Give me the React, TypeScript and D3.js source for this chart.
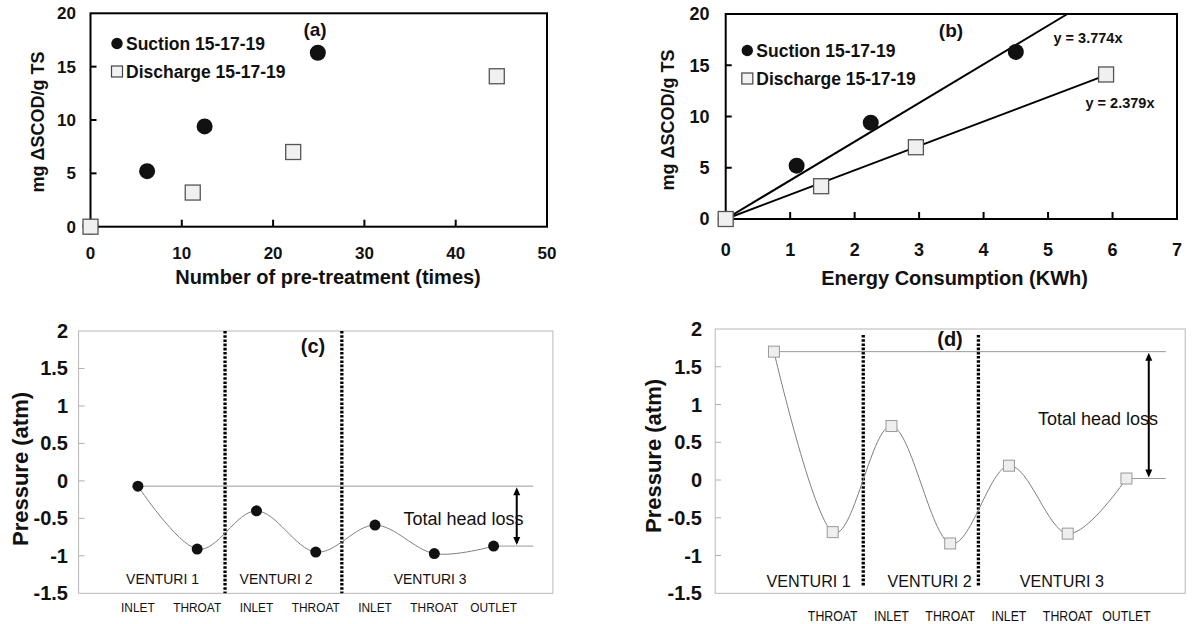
import React from "react";
import * as d3 from "d3";

// ---------- Data: panels (a) and (b) ----------
const suctionTimes = [0, 6.2, 12.5, 24.9];
const dischargeTimes = [0, 11.2, 22.2, 44.5];
const suctionEnergy = [0, 1.1, 2.25, 4.5];
const dischargeEnergy = [0, 1.48, 2.95, 5.9];
const suctionSCOD = [0, 5.2, 9.4, 16.3];
const dischargeSCOD = [0, 3.2, 7.0, 14.1];
const suctionSlope = 3.774;
const dischargeSlope = 2.379;
const legendLabels = ["Suction 15-17-19", "Discharge 15-17-19"];
const xTicksA = [0, 10, 20, 30, 40, 50];
const xTicksB = [0, 1, 2, 3, 4, 5, 6, 7];
const yTicksAB = [0, 5, 10, 15, 20];

// ---------- Data: panels (c) and (d) ----------
const pointLabelsC = ["INLET", "THROAT", "INLET", "THROAT", "INLET", "THROAT", "OUTLET"];
const pointLabelsD = ["", "THROAT", "INLET", "THROAT", "INLET", "THROAT", "OUTLET"];
const venturiLabels = ["VENTURI 1", "VENTURI 2", "VENTURI 3"];
const pressureSuction = [-0.07, -0.91, -0.4, -0.95, -0.59, -0.97, -0.87];
const pressureDischarge = [1.7, -0.69, 0.715, -0.84, 0.19, -0.71, 0.02];
const yTicksCD = [-1.5, -1, -0.5, 0, 0.5, 1, 1.5, 2];

const FONT = "'Liberation Sans', Arial, Helvetica, sans-serif";

function Square({ cx, cy, s, fill, stroke, sw }: any) {
  return <rect x={cx - s / 2} y={cy - s / 2} width={s} height={s} fill={fill} stroke={stroke} strokeWidth={sw} />;
}

function NarrowText({ x, y, size, sx, children }: any) {
  return (
    <text transform={`translate(${x},${y}) scale(${sx},1)`} textAnchor="middle" fontSize={size} fill="#111">
      {children}
    </text>
  );
}

function ScatterPanel({ x, y, xTicks, xs1, xs2, tag, tagPos, xTitle, xTitlePos, yTitlePos, tickFont, xLabelY, yLabelX, legendPos, trend }: any) {
  const [x0, x1] = x.range();
  const [y0, y1] = y.range();
  const line = d3.line<[number, number]>().x((d) => x(d[0])).y((d) => y(d[1]));
  const maxE = d3.max(dischargeEnergy) as number;
  return (
    <g fontFamily={FONT}>
      {trend && (
        <g stroke="#000" strokeWidth={2} fill="none">
          <path d={line([[0, 0], [y.domain()[1] / suctionSlope, y.domain()[1]]]) as string} />
          <path d={line([[0, 0], [maxE, dischargeSlope * maxE]]) as string} />
        </g>
      )}
      <rect x={x0} y={y1} width={x1 - x0} height={y0 - y1} fill="none" stroke="#000" strokeWidth={2} />
      {xTicks.slice(1, -1).map((t: number) => (
        <line key={"xt" + t} x1={x(t)} x2={x(t)} y1={y0} y2={y0 - 7} stroke="#000" strokeWidth={2} />
      ))}
      {yTicksAB.slice(1, -1).map((t: number) => (
        <line key={"yt" + t} x1={x0} x2={x0 + 6} y1={y(t)} y2={y(t)} stroke="#000" strokeWidth={2} />
      ))}
      {xTicks.map((t: number) => (
        <text key={"xl" + t} x={x(t)} y={xLabelY} textAnchor="middle" fontSize={tickFont} fontWeight="bold" fill="#111">{t}</text>
      ))}
      {yTicksAB.map((t: number) => (
        <text key={"yl" + t} x={yLabelX} y={y(t) + tickFont * 0.35} textAnchor="end" fontSize={tickFont} fontWeight="bold" fill="#111">{t}</text>
      ))}
      <text transform={`translate(${yTitlePos[0]},${yTitlePos[1]}) rotate(-90)`} textAnchor="middle" dy="0.35em" fontSize={18} fontWeight="bold" fill="#111">mg ΔSCOD/g TS</text>
      <text x={xTitlePos[0]} y={xTitlePos[1]} textAnchor="middle" fontSize={20} fontWeight="bold" fill="#111">{xTitle}</text>
      <text x={tagPos[0]} y={tagPos[1]} textAnchor="middle" fontSize={19} fontWeight="bold" fill="#111">{tag}</text>
      {/* legend */}
      <circle cx={legendPos[0]} cy={legendPos[1]} r={5.7} fill="#111" />
      <text x={legendPos[0] + 9} y={legendPos[1] + 6.1} fontSize={17.5} fontWeight="bold" fill="#111">{legendLabels[0]}</text>
      <Square cx={legendPos[0]} cy={legendPos[1] + 28} s={11} fill="#f2f2f2" stroke="#444" sw={1.2} />
      <text x={legendPos[0] + 9} y={legendPos[1] + 28 + 6.1} fontSize={17.5} fontWeight="bold" fill="#111">{legendLabels[1]}</text>
      {/* points */}
      {xs1.map((v: number, i: number) => (
        <circle key={"s" + i} cx={x(v)} cy={y(suctionSCOD[i])} r={8} fill="#111" />
      ))}
      {xs2.map((v: number, i: number) => (
        <Square key={"d" + i} cx={x(v)} cy={y(dischargeSCOD[i])} s={15} fill="#f0f0f0" stroke="#555" sw={1.3} />
      ))}
      {trend && (
        <g fontSize={14.5} fontWeight="bold" fill="#111" textAnchor="middle">
          <text x={1088} y={43}>{`y = ${suctionSlope}x`}</text>
          <text x={1120} y={108}>{`y = ${dischargeSlope}x`}</text>
        </g>
      )}
    </g>
  );
}

function PressurePanel({ x, y, values, marker, tag, tagPos, dividers, divY, yTitlePos, yLabelX, venturiPos, venturiY, venturiFont, venturiSx, pointLabels, pointLabelY, pointFont, pointSx, lineEnd, arrowX, headLossPos }: any) {
  const [x0, x1] = x.range();
  const [y0, y1] = y.range();
  const idx = values.map((_: number, i: number) => i + 1);
  const curve = d3
    .line<number>()
    .x((_, i) => x(idx[i]))
    .y((d) => y(d))
    .curve(d3.curveCardinal.tension(0));
  const topY = y(values[0]);
  const botY = y(values[values.length - 1]);
  const ax = x(arrowX);
  const ah = 8;
  const aw = 3.5;
  return (
    <g fontFamily={FONT}>
      <rect x={x0} y={y1} width={x1 - x0} height={y0 - y1} fill="none" stroke="#b8b8b8" strokeWidth={1} />
      {yTicksCD.slice(1, -1).map((t: number) => (
        <line key={"yt" + t} x1={x0} x2={x0 + 6} y1={y(t)} y2={y(t)} stroke="#b0b0b0" strokeWidth={1} />
      ))}
      {yTicksCD.map((t: number) => (
        <text key={"yl" + t} x={yLabelX} y={y(t) + 7} textAnchor="end" fontSize={20} fontWeight="bold" fill="#111">{String(t)}</text>
      ))}
      <text transform={`translate(${yTitlePos[0]},${yTitlePos[1]}) rotate(-90)`} textAnchor="middle" dy="0.35em" fontSize={22} fontWeight="bold" fill="#111">Pressure (atm)</text>
      {dividers.map((d: number, i: number) => (
        <line key={"dv" + i} x1={x(d)} x2={x(d)} y1={divY[0]} y2={divY[1]} stroke="#000" strokeWidth={3.3} strokeDasharray="2.6 1.6" />
      ))}
      <text x={tagPos[0]} y={tagPos[1]} textAnchor="middle" fontSize={20} fontWeight="bold" fill="#111">{tag}</text>
      {/* head loss reference lines */}
      <line x1={x(1)} x2={x(lineEnd)} y1={topY} y2={topY} stroke="#999" strokeWidth={1} />
      <line x1={x(values.length)} x2={x(lineEnd)} y1={botY} y2={botY} stroke="#999" strokeWidth={1} />
      <line x1={ax} x2={ax} y1={topY + ah} y2={botY - ah} stroke="#000" strokeWidth={2} />
      <path d={`M${ax},${topY + 1}L${ax - aw},${topY + ah + 1}L${ax + aw},${topY + ah + 1}Z`} fill="#000" />
      <path d={`M${ax},${botY - 1}L${ax - aw},${botY - ah - 1}L${ax + aw},${botY - ah - 1}Z`} fill="#000" />
      <text x={headLossPos[0]} y={headLossPos[1]} fontSize={18} fill="#111">Total head loss</text>
      <path d={curve(values) as string} fill="none" stroke="#808080" strokeWidth={1} />
      {values.map((v: number, i: number) =>
        marker === "circle" ? (
          <circle key={"p" + i} cx={x(idx[i])} cy={y(v)} r={5.5} fill="#111" />
        ) : (
          <Square key={"p" + i} cx={x(idx[i])} cy={y(v)} s={11} fill="#eeeeee" stroke="#999" sw={1} />
        )
      )}
      {venturiLabels.map((l: string, i: number) => (
        <NarrowText key={"v" + i} x={x(venturiPos[i])} y={venturiY} size={venturiFont} sx={venturiSx}>{l}</NarrowText>
      ))}
      {pointLabels.map((l: string, i: number) => (
        <NarrowText key={"pl" + i} x={x(idx[i])} y={pointLabelY} size={pointFont} sx={pointSx}>{l}</NarrowText>
      ))}
    </g>
  );
}

export default function App() {
  const xA = d3.scaleLinear().domain([0, 50]).range([90.5, 547]);
  const yA = d3.scaleLinear().domain([0, 20]).range([226.7, 13.3]);
  const xB = d3.scaleLinear().domain([0, 7]).range([725.7, 1177]);
  const yB = d3.scaleLinear().domain([0, 20]).range([219, 14]);
  const xC = d3.scaleLinear().domain([0, 8]).range([78.6, 552.9]);
  const yC = d3.scaleLinear().domain([-1.5, 2]).range([593.3, 331]);
  const xD = d3.scaleLinear().domain([0, 8]).range([715.2, 1185.2]);
  const yD = d3.scaleLinear().domain([-1.5, 2]).range([593.3, 329]);

  return (
    <svg width={1192} height={624} style={{ position: "absolute", left: 0, top: 0, background: "#fff" }}>
      <rect width={1192} height={624} fill="#fff" />
      <ScatterPanel
        x={xA} y={yA} xTicks={xTicksA} xs1={suctionTimes} xs2={dischargeTimes}
        tag="(a)" tagPos={[315, 36]} xTitle="Number of pre-treatment (times)" xTitlePos={[328, 283.5]}
        yTitlePos={[38, 122]} tickFont={17} xLabelY={259} yLabelX={76} legendPos={[117, 43.5]} trend={false}
      />
      <ScatterPanel
        x={xB} y={yB} xTicks={xTicksB} xs1={suctionEnergy} xs2={dischargeEnergy}
        tag="(b)" tagPos={[951, 37]} xTitle="Energy Consumption (KWh)" xTitlePos={[954.6, 285]}
        yTitlePos={[668, 120]} tickFont={18} xLabelY={256} yLabelX={709.5} legendPos={[747.3, 50.5]} trend={true}
      />
      <PressurePanel
        x={xC} y={yC} values={pressureSuction} marker="circle" tag="(c)" tagPos={[313, 353]}
        dividers={[2.47, 4.44]} divY={[331, 593.3]} yTitlePos={[20.5, 469]} yLabelX={68}
        venturiPos={[1.415, 3.33, 5.93]} venturiY={584} venturiFont={15.5} venturiSx={0.9}
        pointLabels={pointLabelsC} pointLabelY={612} pointFont={13.5} pointSx={0.88}
        lineEnd={7.67} arrowX={7.39} headLossPos={[403.5, 524.5]}
      />
      <PressurePanel
        x={xD} y={yD} values={pressureDischarge} marker="square" tag="(d)" tagPos={[950, 346]}
        dividers={[2.52, 4.48]} divY={[335, 587]} yTitlePos={[653.6, 456]} yLabelX={702}
        venturiPos={[1.59, 3.65, 5.9]} venturiY={587} venturiFont={17} venturiSx={0.95}
        pointLabels={pointLabelsD} pointLabelY={621} pointFont={14} pointSx={0.88}
        lineEnd={7.67} arrowX={7.38} headLossPos={[1038, 424.6]}
      />
    </svg>
  );
}
